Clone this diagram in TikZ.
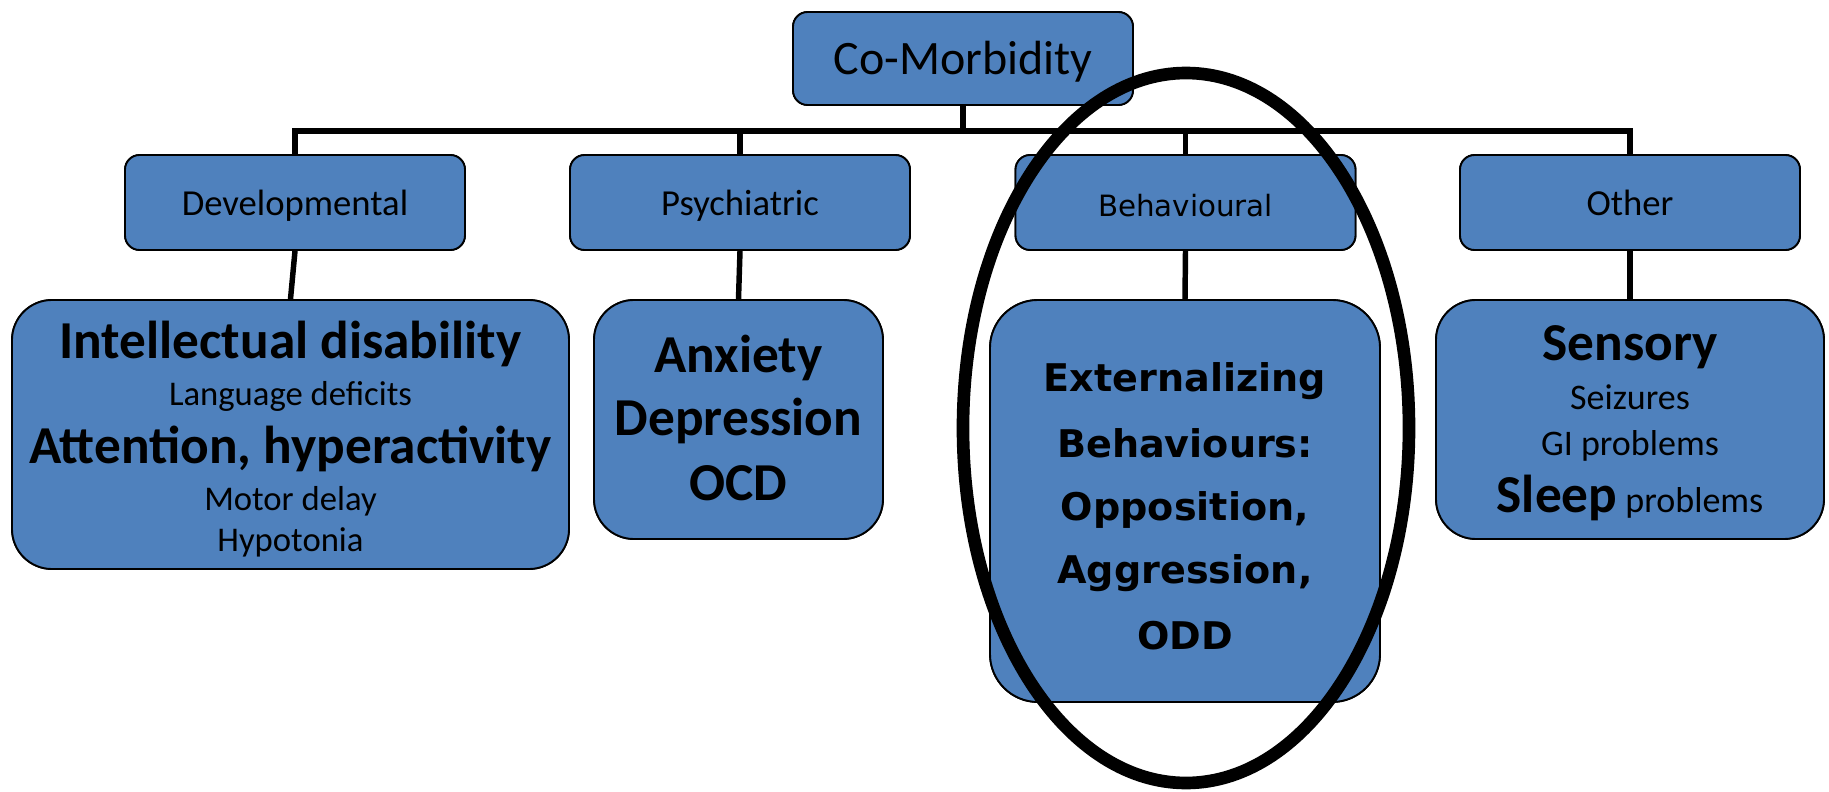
\documentclass[tikz,border=0pt]{standalone}
\usepackage{fontspec}
\setmainfont{Carlito}
\newfontfamily\verdfont{DejaVu Sans}
\usetikzlibrary{shapes.geometric}
\definecolor{boxblue}{HTML}{4F81BD}
\begin{document}
\begin{tikzpicture}[x=0.75pt,y=-0.75pt,
  box/.style={draw=black, line width=1.4pt, fill=boxblue, inner sep=0pt},
  topbox/.style={box, rounded corners=11pt, minimum width=255pt, minimum height=69.75pt},
  catbox/.style={box, rounded corners=11pt, minimum width=255pt, minimum height=71.25pt},
  itembox/.style={box, rounded corners=30pt},
  conn/.style={draw=black, line width=4.1pt},
  txt/.style={anchor=base, inner sep=0pt, text=black},
  cattxt/.style={txt, font=\fontsize{27.5}{30}\selectfont},
  big/.style={txt, font=\bfseries\fontsize{40}{44}\selectfont},
  small/.style={txt, font=\fontsize{26}{30}\selectfont},
  ext/.style={txt, font=\verdfont\bfseries\fontsize{28.6}{32}\selectfont},
  ring/.style={draw=black, line width=9.5pt}
]
\useasboundingbox (0,0) rectangle (1829,792);

% boxes
\node[topbox] (top) at (963,58.5) {};
\node[catbox] (dev) at (295,202.5) {};
\node[catbox] (psy) at (740,202.5) {};
\node[catbox] (beh) at (1185.5,202.5) {};
\node[catbox] (oth) at (1630,202.5) {};

\node[itembox, minimum width=417.75pt, minimum height=201.75pt] (intel) at (290.5,434.5) {};
\node[itembox, minimum width=216.75pt, minimum height=179.25pt] (anx) at (738.5,419.5) {};
\node[itembox, rounded corners=36pt, minimum width=292.5pt, minimum height=301.5pt] (extb) at (1185,501) {};
\node[itembox, minimum width=291pt, minimum height=179.25pt] (sens) at (1630,419.5) {};

% connectors
\coordinate (bus) at (963,131);
\draw[conn] (top.south) -- (top.south |- bus);
\draw[conn, line join=miter] (dev.north) -- (dev.north |- bus) -- (oth.north |- bus) -- (oth.north);
\draw[conn] (psy.north |- bus) -- (psy.north);
\draw[conn] (beh.north |- bus) -- (beh.north);
\draw[conn] (dev.south) -- (intel.north);
\draw[conn] (psy.south) -- (anx.north);
\draw[conn] (beh.south) -- (extb.north);
\draw[conn] (oth.south) -- (sens.north);

% redraw boxes over connector ends
\node[topbox] at (top) {};
\node[catbox] at (dev) {};
\node[catbox] at (psy) {};
\node[catbox] at (beh) {};
\node[catbox] at (oth) {};
\node[itembox, minimum width=417.75pt, minimum height=201.75pt] at (intel) {};
\node[itembox, minimum width=216.75pt, minimum height=179.25pt] at (anx) {};
\node[itembox, rounded corners=36pt, minimum width=292.5pt, minimum height=301.5pt] at (extb) {};
\node[itembox, minimum width=291pt, minimum height=179.25pt] at (sens) {};

% texts
\node[txt, font=\fontsize{36}{40}\selectfont] (ttop) at (963,75) {Co-Morbidity};
\node[cattxt] (tdev) at (295,215) {Developmental};
\node[cattxt] (tpsy) at (740,215) {Psychiatric};
\node[txt, font=\verdfont\fontsize{22}{26}\selectfont] (tbeh) at (1185.5,216) {Behavioural};
\node[cattxt] (toth) at (1630,215) {Other};

\node[big] (t1) at (290.5,358) {Intellectual disability};
\node[small] (t2) at (290.5,405) {Language deficits};
\node[big] (t3) at (290.5,463) {Attention, hyperactivity};
\node[small] (t4) at (290.5,510) {Motor delay};
\node[small] (t5) at (290.5,551) {Hypotonia};

\node[big] (a1) at (738.5,372) {Anxiety};
\node[big] (a2) at (738.5,435) {Depression};
\node[big] (a3) at (738.5,500) {OCD};

\node[ext] (e1) at (1185,391) {Externalizing};
\node[ext] (e2) at (1185,457) {Behaviours:};
\node[ext] (e3) at (1185,520) {Opposition,};
\node[ext] (e4) at (1185,583) {Aggression,};
\node[ext] (e5) at (1185,649) {ODD};

\node[big] (s1) at (1630,360) {Sensory};
\node[small, font=\fontsize{27}{30}\selectfont] (s2) at (1630,409) {Seizures};
\node[small, font=\fontsize{27}{30}\selectfont] (s3) at (1630,455) {GI problems};
\node[txt, font=\fontsize{27}{30}\selectfont] (s4) at (1630,512) {{\bfseries\fontsize{40}{44}\selectfont Sleep} problems};

% highlight ring
\draw[ring] (1186,428) ellipse [x radius=223, y radius=355];
\end{tikzpicture}
\end{document}
